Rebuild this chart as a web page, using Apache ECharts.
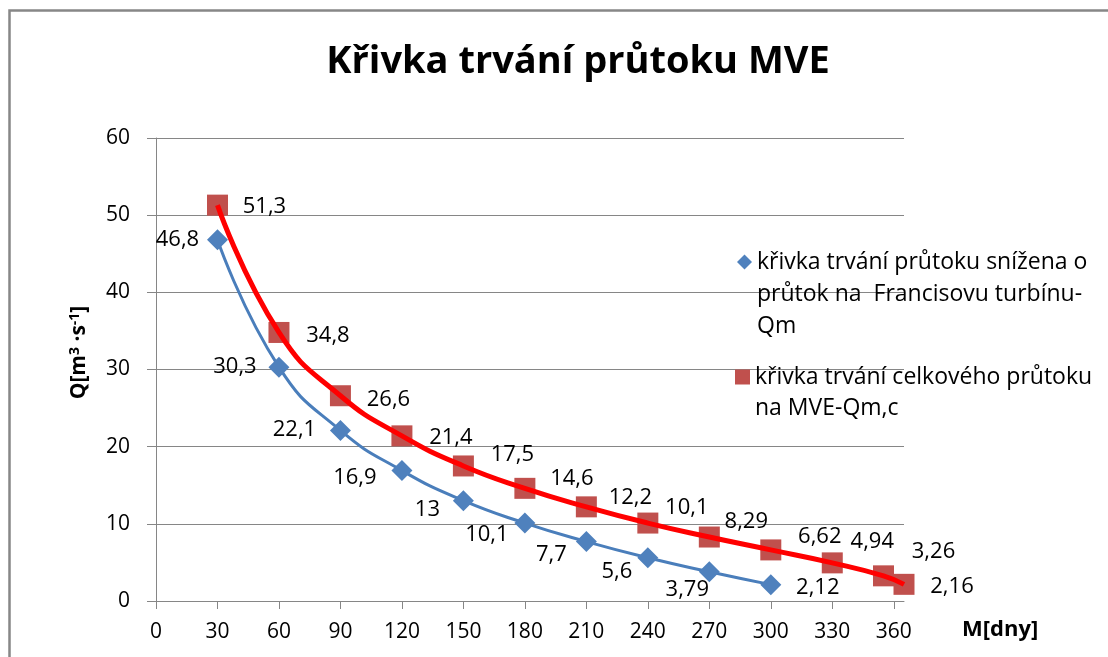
<!DOCTYPE html>
<html>
<head>
<meta charset="utf-8">
<script src="https://cdn.jsdelivr.net/npm/echarts@6/dist/echarts.min.js"></script>
<style>
html,body{margin:0;padding:0;background:#fff;}
#chart{width:1108px;height:657px;}
</style>
</head>
<body>
<div id="chart"></div>
<script>
// ---- data ----
const titleText = 'Křivka trvání průtoku MVE';
const blueName = 'křivka trvání průtoku snížena o průtok na  Francisovu turbínu-Qm';
const blueLegendLines = ['křivka trvání průtoku snížena o', 'průtok na  Francisovu turbínu-', 'Qm'];
const redName = 'křivka trvání celkového průtoku na MVE-Qm,c';
const redLegendLines = ['křivka trvání celkového průtoku', 'na MVE-Qm,c'];
const blueX = [30, 60, 90, 120, 150, 180, 210, 240, 270, 300];
const blueY = [46.8, 30.3, 22.1, 16.9, 13, 10.1, 7.7, 5.6, 3.79, 2.12];
const redX = [30, 60, 90, 120, 150, 180, 210, 240, 270, 300, 330, 355, 365];
const redY = [51.3, 34.8, 26.6, 21.4, 17.5, 14.6, 12.2, 10.1, 8.29, 6.62, 4.94, 3.26, 2.16];
const xTicks = [0, 30, 60, 90, 120, 150, 180, 210, 240, 270, 300, 330, 360];
const yTicks = [0, 10, 20, 30, 40, 50, 60];

// ---- label placement (style only) ----
const blueLabelOffset = [[-40,0],[-44,0],[-46,-1],[-47,7],[-36,9],[-38,12],[-35,13],[-31,14],[-22,18],[47,3]];
const redLabelOffset = [[47,2],[49,3],[48,4],[49,2],[49,-11],[47,-10],[44,-9],[39,-15],[37,-15],[49,-13],[40,-21],[50,-24],[48,2]];

const FONT = '"Open Sans", "Noto Sans", sans-serif';
const fmt = v => String(v).replace('.', ',');

const blueData = blueX.map((x, i) => ({ value: [x, blueY[i]], label: { offset: blueLabelOffset[i] } }));
const redData = redX.map((x, i) => ({ value: [x, redY[i]], label: { offset: redLabelOffset[i] } }));
const redLineData = redX.map((x, i) => [x, redY[i]]);

const labelCommon = {
  show: true, position: 'inside', color: '#000', fontFamily: FONT, fontSize: 22,
  formatter: p => fmt(p.value[1])
};

// blank lines before the text put the legend icon level with the first line
const legendText = lines => new Array(lines.length).join('\n') + lines.join('\n');

const chart = echarts.init(document.getElementById('chart'), null, { renderer: 'canvas' });
chart.setOption({
  backgroundColor: '#fff',
  animation: false,
  title: {
    text: titleText, left: 573, textAlign: 'center', top: 38,
    textStyle: { fontFamily: FONT, fontWeight: 'bold', fontSize: 38, color: '#000' }
  },
  graphic: [{
    type: 'rect', shape: { x: 9.5, y: 10.5, width: 1300, height: 900 },
    style: { fill: 'none', stroke: '#878787', lineWidth: 2.5 }, silent: true, z: 100
  }],
  legend: [{
    data: [{ name: blueName, icon: 'diamond' }], orient: 'vertical', left: 737, top: 262 - 80, padding: 0,
    itemWidth: 15, itemHeight: 15,
    formatter: () => legendText(blueLegendLines),
    textStyle: { fontFamily: FONT, fontSize: 23, color: '#000', lineHeight: 32 }
  }, {
    data: [{ name: redName, icon: 'rect' }], orient: 'vertical', left: 735, top: 377 - 46.5, padding: 0,
    itemWidth: 15, itemHeight: 15,
    formatter: () => legendText(redLegendLines),
    textStyle: { fontFamily: FONT, fontSize: 23, color: '#000', lineHeight: 31 }
  }],
  grid: { left: 156, right: 204, top: 138, bottom: 56, containLabel: false },
  xAxis: {
    type: 'value', min: 0, max: 365, interval: 30,
    name: 'M[dny]', nameLocation: 'end', nameGap: 58,
    nameTextStyle: { fontFamily: FONT, fontWeight: 'bold', fontSize: 22, color: '#000', align: 'left', verticalAlign: 'top', padding: [18, 0, 0, 0] },
    axisLine: { show: true, lineStyle: { color: '#868686', width: 1 } },
    axisTick: { show: true, length: 8, lineStyle: { color: '#868686' }, customValues: xTicks },
    axisLabel: { fontFamily: FONT, fontSize: 21, color: '#000', margin: 21, customValues: xTicks, formatter: v => String(v) },
    splitLine: { show: false }
  },
  yAxis: {
    type: 'value', min: 0, max: 60, interval: 10,
    name: '{a|Q[m}{s|3}{a| ·s}{s|-1}{a|]}', nameLocation: 'middle', nameGap: 66, nameRotate: 90,
    nameTextStyle: {
      padding: [0, 0, 0, 34],
      rich: {
        a: { fontFamily: FONT, fontWeight: 'bold', fontSize: 21, color: '#000' },
        s: { fontFamily: FONT, fontWeight: 'bold', fontSize: 14, color: '#000', verticalAlign: 'top', padding: [0, 0, 8, 0] }
      }
    },
    axisLine: { show: true, lineStyle: { color: '#868686', width: 1 } },
    axisTick: { show: true, length: 9, lineStyle: { color: '#868686' } },
    axisLabel: { fontFamily: FONT, fontSize: 21, color: '#000', margin: 26, formatter: v => fmt(v) },
    splitLine: { show: true, lineStyle: { color: '#868686', width: 1 } }
  },
  series: [{
    name: blueName, type: 'line', data: blueData, smooth: 0.5,
    symbol: 'diamond', symbolSize: 21,
    lineStyle: { color: '#4A7EBB', width: 3 },
    itemStyle: { color: '#4F81BD' },
    label: labelCommon, z: 2
  }, {
    name: redName, type: 'scatter', data: redData,
    symbol: 'rect', symbolSize: 21,
    itemStyle: { color: '#C0504D', opacity: 1 },
    label: labelCommon, z: 3
  }, {
    name: 'redLine', type: 'line', data: redLineData, smooth: 0.5,
    showSymbol: false, symbol: 'none',
    lineStyle: { color: '#FF0000', width: 5 },
    z: 4, silent: true
  }]
});
</script>
</body>
</html>
